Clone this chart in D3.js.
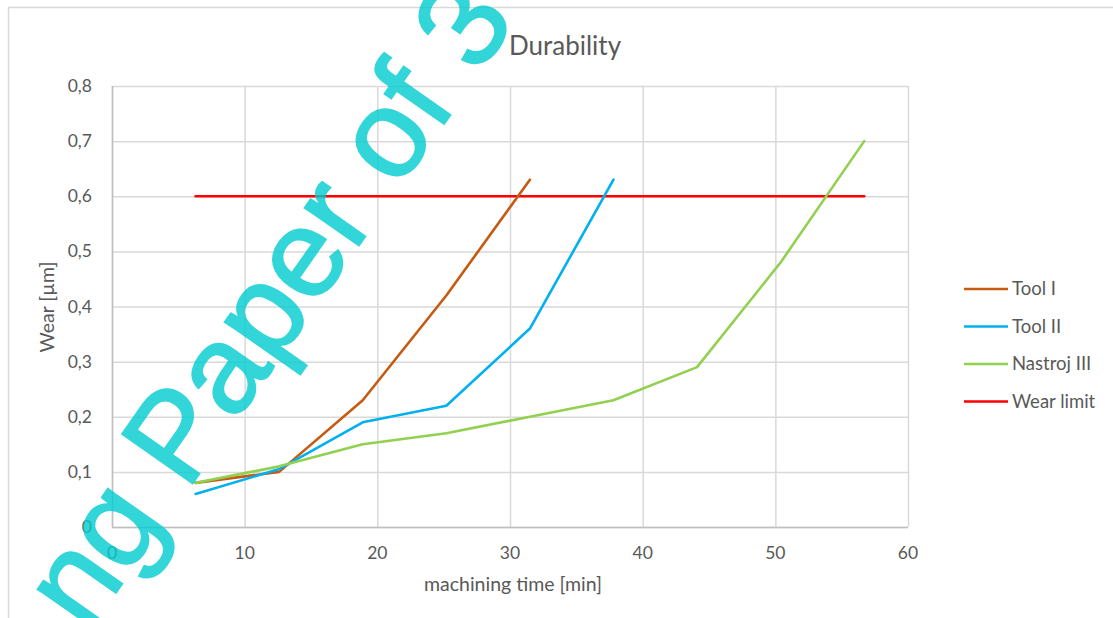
<!DOCTYPE html>
<html><head><meta charset="utf-8">
<script src="https://cdn.jsdelivr.net/npm/d3@7"></script>
<style>body{margin:0;background:#fff;overflow:hidden}svg{display:block}</style>
</head><body>
<script>
const timeTool1 = [6.3, 12.6, 18.9, 25.2, 31.5];
const wearTool1 = [0.08, 0.10, 0.23, 0.42, 0.63];
const timeTool2 = [6.3, 12.6, 18.9, 25.2, 31.5, 37.8];
const wearTool2 = [0.06, 0.105, 0.19, 0.22, 0.36, 0.63];
const timeTool3 = [6.3, 12.6, 18.9, 25.2, 31.5, 37.8, 44.1, 50.4, 56.7];
const wearTool3 = [0.08, 0.11, 0.15, 0.17, 0.20, 0.23, 0.29, 0.48, 0.70];
const timeLimit = [6.3, 56.7];
const wearLimit = [0.6, 0.6];
const seriesNames = ["Tool I", "Tool II", "Nastroj III", "Wear limit"];
const seriesColors = ["#c55a11", "#00b0f0", "#92d050", "#ff0000"];
const xTicks = [0, 10, 20, 30, 40, 50, 60];
const yTicks = [0, 0.1, 0.2, 0.3, 0.4, 0.5, 0.6, 0.7, 0.8];
const yTickLabels = ["0", "0,1", "0,2", "0,3", "0,4", "0,5", "0,6", "0,7", "0,8"];

const W = 1113, H = 618;
const svg = d3.select("body").append("svg").attr("width", W).attr("height", H);
const font = "Lato, 'Open Sans', sans-serif";
const txt = "#595959";

svg.append("rect").attr("x", 8.5).attr("y", 7.5).attr("width", W + 20).attr("height", H + 20)
  .attr("fill", "#fff").attr("stroke", "#d9d9d9").attr("stroke-width", 1.5);

const x = d3.scaleLinear().domain([0, 60]).range([112, 908]);
const y = d3.scaleLinear().domain([0, 0.8]).range([527, 86]);

// grid
svg.append("g").selectAll("line").data(yTicks).join("line")
  .attr("x1", x(0)).attr("x2", x(60)).attr("y1", d => y(d) + 0.5).attr("y2", d => y(d) + 0.5)
  .attr("stroke", "#d9d9d9").attr("stroke-width", 1.5);
svg.append("g").selectAll("line").data(xTicks).join("line")
  .attr("y1", y(0)).attr("y2", y(0.8)).attr("x1", d => x(d) + 0.5).attr("x2", d => x(d) + 0.5)
  .attr("stroke", "#d9d9d9").attr("stroke-width", 1.5);
svg.append("line").attr("x1", x(0)).attr("x2", x(60)).attr("y1", y(0) + 0.5).attr("y2", y(0) + 0.5).attr("stroke", "#bfbfbf").attr("stroke-width", 1.5);
svg.append("line").attr("x1", x(0) + 0.5).attr("x2", x(0) + 0.5).attr("y1", y(0)).attr("y2", y(0.8)).attr("stroke", "#bfbfbf").attr("stroke-width", 1.5);

// tick labels
svg.append("g").selectAll("text").data(yTicks).join("text")
  .attr("x", 92).attr("y", d => y(d) + 6).attr("text-anchor", "end")
  .attr("font-family", font).attr("font-size", 17.5).attr("fill", txt)
  .text((d, i) => yTickLabels[i]);
svg.append("g").selectAll("text").data(xTicks).join("text")
  .attr("x", d => x(d)).attr("y", 559).attr("text-anchor", "middle")
  .attr("font-family", font).attr("font-size", 17.5).attr("fill", txt)
  .text(d => d);

// titles
svg.append("text").attr("x", 565).attr("y", 55).attr("text-anchor", "middle")
  .attr("font-family", font).attr("font-size", 26).attr("fill", txt).text("Durability");
svg.append("text").attr("x", 513).attr("y", 591).attr("text-anchor", "middle")
  .attr("font-family", font).attr("font-size", 19.5).attr("fill", txt).text("machining time [min]");
svg.append("text").attr("transform", "translate(54,307) rotate(-90)").attr("text-anchor", "middle")
  .attr("font-family", font).attr("font-size", 19.5).attr("fill", txt).text("Wear [µm]");

// series
const series = [
  [timeTool1, wearTool1], [timeTool2, wearTool2], [timeTool3, wearTool3], [timeLimit, wearLimit]
];
const line = d3.line().x(d => x(d[0])).y(d => y(d[1]));
const order = [3, 0, 1, 2];
order.forEach(i => {
  const [tx, wy] = series[i];
  svg.append("path").datum(tx.map((t, k) => [t, wy[k]]))
    .attr("d", line).attr("fill", "none").attr("stroke", seriesColors[i])
    .attr("stroke-width", 2.6).attr("stroke-linejoin", "round").attr("stroke-linecap", "round");
});

// legend
const lg = svg.append("g");
seriesNames.forEach((n, i) => {
  const ly = 289 + i * 37.5;
  lg.append("line").attr("x1", 964).attr("x2", 1008).attr("y1", ly).attr("y2", ly)
    .attr("stroke", seriesColors[i]).attr("stroke-width", 2.6);
  lg.append("text").attr("x", 1012).attr("y", ly + 6).attr("font-family", font)
    .attr("font-size", 18.5).attr("fill", txt).text(n);
});

// watermark
svg.append("g").attr("opacity", 0.8)
  .append("text").attr("transform", "translate(87,634) rotate(-55)")
  .attr("font-family", "'Liberation Sans', Arial, sans-serif").attr("font-size", 125)
  .attr("fill", "rgb(0,204,208)").attr("stroke", "rgb(0,204,208)").attr("stroke-width", 2)
  .attr("stroke-linejoin", "miter").text("ng Paper of 3");
</script>
</body></html>
